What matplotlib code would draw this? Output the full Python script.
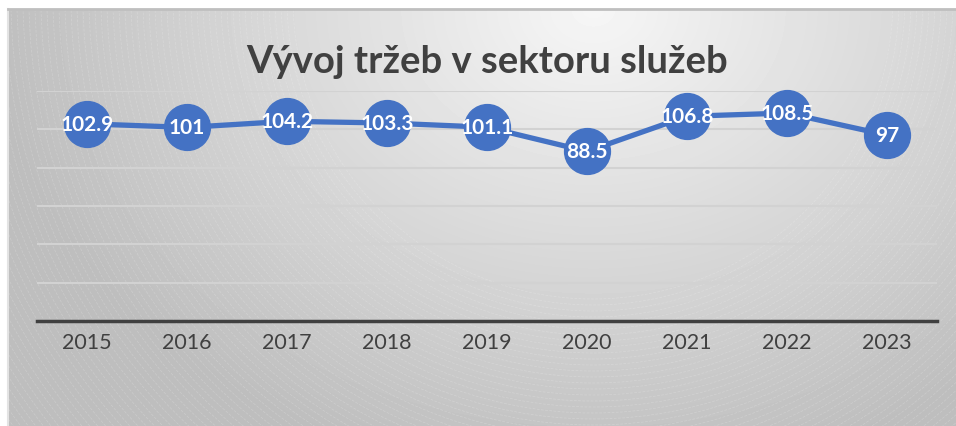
import numpy as np
import matplotlib
matplotlib.use('Agg')
import matplotlib.pyplot as plt
from matplotlib.patches import Circle

years = ['2015', '2016', '2017', '2018', '2019', '2020', '2021', '2022', '2023']
values = [102.9, 101, 104.2, 103.3, 101.1, 88.5, 106.8, 108.5, 97]
labels = ['102.9', '101', '104.2', '103.3', '101.1', '88.5', '106.8', '108.5', '97']

title = 'Vývoj tržeb v sektoru služeb'
blue = '#4472C4'
dark = '#404040'

W, H = 956, 427
fig = plt.figure(figsize=(W / 100, H / 100), dpi=100, facecolor='white')

# chart area background: radial grey gradient with faint arcs
bg = fig.add_axes([8 / W, 0, 1 - 8 / W, 1 - 10 / H])
bw, bh = W - 8, H - 10
xx, yy = np.meshgrid(np.arange(bw), np.arange(bh))
cx, cy = 585, 0
r = np.sqrt(((xx - cx) / 600.0) ** 2 + ((yy - cy) / 470.0) ** 2)
r = np.clip(r, 0, 1) ** 1.0
grey = 0.965 - (0.965 - 0.745) * r
bg.imshow(grey, cmap='gray', vmin=0, vmax=1, extent=[0, bw, bh, 0], aspect='auto')
for rad in np.arange(300, 1100, 6):
    bg.add_patch(Circle((cx, cy - 10), rad, fill=False, ec='white', lw=0.5,
                        alpha=0.2, ls=(0, (4, 2))))
bg.set_xlim(0, bw)
bg.set_ylim(bh, 0)
bg.set_xticks([])
bg.set_yticks([])
for s in ['right', 'bottom']:
    bg.spines[s].set_visible(False)
bg.spines['top'].set_color('#bfbfbf')
bg.spines['top'].set_linewidth(2)
bg.spines['left'].set_color('#e3e3e3')
bg.spines['left'].set_linewidth(1.5)

# plot area
ax = fig.add_axes([37 / W, (H - 322) / H, 900 / W, 230 / H])
ax.patch.set_alpha(0)
x = np.arange(len(years))
ax.set_xlim(-0.5, len(years) - 0.5)
ax.set_ylim(0, 120)
ax.set_yticks(np.arange(0, 121, 20))
ax.yaxis.grid(True, color='#d2d2d2', lw=1.5)
ax.set_axisbelow(True)
ax.tick_params(axis='y', left=False, labelleft=False)
ax.tick_params(axis='x', length=0, pad=8, labelsize=15.5, labelcolor=dark)
ax.set_xticks(x)
ax.set_xticklabels(years, fontfamily='Lato')
for s in ['top', 'right', 'left']:
    ax.spines[s].set_visible(False)
ax.spines['bottom'].set_color(dark)
ax.spines['bottom'].set_linewidth(2.5)

ax.plot(x, values, color=blue, lw=3.8, marker='o', markersize=33,
        markerfacecolor=blue, markeredgecolor=blue, clip_on=False, zorder=3)
for xi, v, lab in zip(x, values, labels):
    ax.text(xi, v, lab, ha='center', va='center', color='white',
            fontsize=15, fontweight='bold', fontfamily='Lato', zorder=4)

fig.text(487 / W, 1 - 73 / H, title, ha='center', va='baseline',
         fontsize=27.5, fontweight='bold', color=dark, fontfamily='Lato')

fig.savefig('out.png', dpi=100, facecolor='white')
